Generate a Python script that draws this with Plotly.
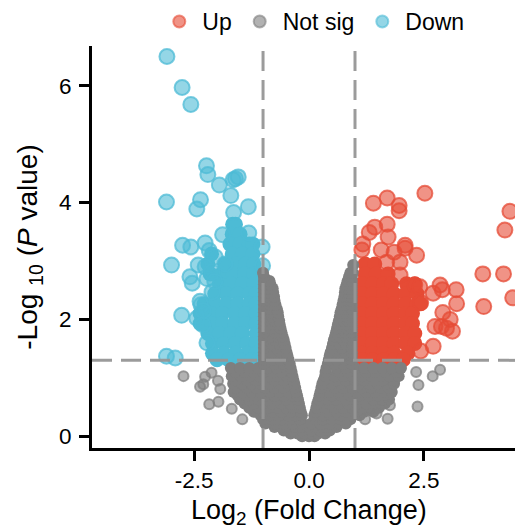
import plotly.graph_objects as go

up_x = [2.52,4.37,4.26,3.78,4.23,3.80,4.43,1.40,1.70,1.96,1.96,1.70,1.43,1.31,1.72,1.17,1.15,1.57,1.85,2.09,2.09,2.34,1.98,1.69,1.98,2.85,2.70,2.90,3.20,3.21,2.91,2.43,3.07,2.74,2.88,2.99,3.12,2.70,2.43,2.30,2.41]
up_y = [4.16,3.85,3.53,2.78,2.78,2.22,2.37,3.99,4.08,3.95,3.86,3.63,3.58,3.49,3.41,3.29,3.19,3.19,3.15,3.27,3.22,3.10,2.98,2.98,2.76,2.59,2.45,2.51,2.51,2.27,2.12,2.29,2.00,1.88,1.88,1.85,1.80,1.54,1.46,2.59,2.56]
up_core_rows = [
    (2.95, [1.22,1.43]),
    (2.78, [1.22,1.46,1.72]),
    (2.61, [1.15,1.38,1.62,1.80,2.12,2.30]),
    (2.44, [1.15,1.38,1.62,1.85,2.10,2.35]),
    (2.27, [1.15,1.38,1.62,1.85,2.10,2.35,2.43]),
    (2.10, [1.15,1.38,1.62,1.85,2.10,2.25]),
    (1.93, [1.15,1.38,1.62,1.85,2.10,2.25]),
    (1.76, [1.15,1.38,1.62,1.85,2.10,2.30]),
    (1.59, [1.15,1.38,1.62,1.85,2.10,2.30]),
    (1.42, [1.15,1.38,1.62,1.85,2.15]),
    (1.31, [1.15,1.38,1.62,1.85,2.05]),
]

down_x = [-3.09,-2.76,-2.57,-2.23,-2.20,-1.95,-1.65,-1.54,-1.60,-1.70,-3.10,-2.36,-2.44,-1.32,-1.64,-1.88,-1.31,-1.02,-1.01,-2.75,-2.57,-2.26,-2.17,-2.99,-2.41,-2.26,-2.59,-2.54,-2.22,-2.77,-2.37,-2.44,-2.31,-2.22,-3.10,-2.91,-2.04,-1.83,-2.11,-2.11,-2.35,-2.05,-2.30]
down_y = [6.50,5.97,5.68,4.63,4.48,4.30,4.39,4.44,4.41,4.12,4.01,4.05,3.89,3.93,3.83,3.45,3.48,3.24,2.92,3.27,3.24,3.31,3.18,2.93,2.93,2.90,2.73,2.62,2.70,2.07,2.31,2.02,1.91,1.60,1.37,1.34,3.07,2.95,2.81,2.47,2.25,2.65,2.15]
down_core_rows = [
    (3.63, [-1.66,-1.60]),
    (3.46, [-1.67,-1.50]),
    (3.29, [-1.72,-1.50,-1.30,-1.22]),
    (3.12, [-2.12,-1.67,-1.45,-1.22]),
    (2.95, [-2.20,-1.83,-1.60,-1.38,-1.20]),
    (2.78, [-2.15,-1.90,-1.65,-1.40,-1.20]),
    (2.61, [-1.95,-1.70,-1.45,-1.20]),
    (2.44, [-2.05,-1.80,-1.55,-1.30,-1.15]),
    (2.27, [-2.28,-2.05,-1.80,-1.55,-1.30,-1.15]),
    (2.10, [-2.37,-2.12,-1.88,-1.62,-1.38,-1.15]),
    (1.93, [-2.37,-2.12,-1.88,-1.62,-1.38,-1.15]),
    (1.76, [-2.20,-1.95,-1.70,-1.45,-1.15]),
    (1.59, [-2.10,-1.85,-1.60,-1.35,-1.15]),
    (1.42, [-2.10,-1.85,-1.60,-1.35,-1.15]),
    (1.31, [-2.00,-1.75,-1.50,-1.25,-1.10]),
]

ns_x = [-2.73,-2.26,-2.37,-2.12,-2.30,-1.93,-1.98,-2.17,-1.97,-1.68,-1.45,2.85,2.69,2.38,2.36,2.33,1.71,1.47,1.22,1.76]
ns_y = [1.03,1.02,0.85,1.09,0.89,0.81,0.95,0.55,0.59,0.47,0.29,1.14,1.03,0.88,0.51,1.10,0.30,0.39,0.29,0.53]
ns_core_rows = [
    (0.00, [-0.15,0.00,0.12]),
    (0.05, [-0.40,-0.25,-0.10,0.05,0.20,0.35]),
    (0.10, [-0.55,-0.35,-0.15,0.05,0.25,0.45]),
    (0.16, [-0.75,-0.60,-0.45,-0.30,-0.15,0.00,0.15,0.30,0.45,0.60]),
    (0.22, [-0.95,-0.75,-0.55,-0.35,-0.15,0.05,0.25,0.45,0.65,0.80]),
    (0.29, [-1.00,-0.80,-0.60,-0.40,-0.20,0.15,0.30,0.50,0.70,0.90]),
    (0.36, [-1.05,-0.85,-0.65,-0.45,-0.30,-0.155,0.115,0.30,0.50,0.70,0.90,1.10]),
    (0.42, [-1.20,-1.00,-0.80,-0.60,-0.40,-0.18,0.14,0.40,0.60,0.80,1.00,1.20,1.40]),
    (0.49, [-1.30,-1.10,-0.90,-0.70,-0.50,-0.35,-0.20,0.16,0.35,0.55,0.75,0.95,1.15,1.35,1.52]),
    (0.56, [-1.40,-1.20,-1.00,-0.80,-0.60,-0.40,-0.22,0.18,0.45,0.65,0.85,1.05,1.25,1.45,1.65]),
    (0.63, [-1.50,-1.30,-1.10,-0.90,-0.70,-0.50,-0.24,0.21,0.40,0.60,0.80,1.00,1.20,1.40,1.60,1.74]),
    (0.70, [-1.55,-1.35,-1.15,-0.95,-0.75,-0.55,-0.35,-0.26,0.23,0.50,0.70,0.90,1.10,1.30,1.50,1.70]),
    (0.76, [-1.64,-1.45,-1.25,-1.05,-0.85,-0.65,-0.45,-0.28,0.25,0.45,0.65,0.85,1.05,1.25,1.45,1.65,1.80]),
    (0.83, [-1.60,-1.35,-1.15,-0.95,-0.75,-0.55,-0.30,0.27,0.55,0.75,0.95,1.15,1.35,1.55,1.75]),
    (0.90, [-1.65,-1.45,-1.25,-1.05,-0.85,-0.65,-0.45,-0.32,0.29,0.50,0.70,0.90,1.10,1.30,1.50,1.70,1.85]),
    (0.96, [-1.60,-1.35,-1.15,-0.95,-0.75,-0.55,-0.34,0.32,0.60,0.80,1.00,1.20,1.40,1.60,1.85]),
    (1.03, [-1.68,-1.48,-1.28,-1.08,-0.88,-0.68,-0.48,-0.36,0.35,0.55,0.75,0.95,1.15,1.35,1.55,1.75,1.95]),
    (1.10, [-1.60,-1.40,-1.20,-1.00,-0.80,-0.60,-0.38,0.36,0.65,0.85,1.05,1.25,1.45,1.65,1.90]),
    (1.17, [-1.70,-1.50,-1.30,-1.10,-0.90,-0.70,-0.50,-0.40,0.38,0.60,0.80,1.00,1.20,1.40,1.60,1.80,2.00]),
    (1.24, [-0.98,-0.75,-0.55,-0.42,0.41,0.55,0.75,0.93]),
    (1.31, [-0.98,-0.80,-0.62,-0.445,0.43,0.60,0.78,0.93]),
    (1.38, [-0.98,-0.70,-0.47,0.45,0.70,0.93]),
    (1.44, [-0.98,-0.80,-0.62,-0.49,0.47,0.62,0.78,0.93]),
    (1.51, [-0.98,-0.70,-0.51,0.50,0.72,0.93]),
    (1.58, [-0.98,-0.80,-0.65,-0.53,0.52,0.66,0.80,0.93]),
    (1.65, [-0.98,-0.75,-0.55,0.54,0.75,0.93]),
    (1.71, [-0.98,-0.82,-0.68,-0.575,0.565,0.68,0.80,0.93]),
    (1.78, [-0.98,-0.75,-0.60,0.59,0.78,0.93]),
    (1.85, [-0.98,-0.84,-0.72,-0.62,0.61,0.72,0.83,0.93]),
    (1.92, [-0.98,-0.80,-0.64,0.63,0.80,0.93]),
    (1.98, [-0.98,-0.85,-0.75,-0.65,0.65,0.75,0.84,0.93]),
    (2.05, [-0.98,-0.80,-0.67,0.67,0.82,0.93]),
    (2.12, [-0.98,-0.83,-0.68,0.685,0.80,0.93]),
    (2.18, [-0.98,-0.85,-0.70,0.71,0.85,0.93]),
    (2.25, [-0.98,-0.85,-0.73,0.73,0.83,0.93]),
    (2.32, [-0.98,-0.85,-0.75,0.75,0.85,0.93]),
    (2.39, [-0.98,-0.87,-0.76,0.77,0.85,0.93]),
    (2.46, [-0.98,-0.88,-0.78,0.78,0.86,0.93]),
    (2.53, [-0.98,-0.88,-0.79,0.79,0.86,0.93]),
    (2.60, [-0.98,-0.84,0.82,0.93]),
    (2.66, [-0.98,-0.86,0.84,0.93]),
    (2.73, [-0.98,0.87,0.93]),
    (2.80, [-1.00,0.90,0.95]),
    (2.93, [0.96]),
]

x_ticks = [-2.5, 0, 2.5]
x_labels = ["-2.5", "0.0", "2.5"]
y_ticks = [0, 2, 4, 6]
y_labels = ["0", "2", "4", "6"]
x_range = [-4.72, 4.48]
y_range = [-0.2, 6.68]
fc_cut = 1
p_cut = 1.3
legend_names = ["Up", "Not sig", "Down"]

RED, BLUE, GREY = "230,75,53", "77,187,213", "127,127,127"
FONT = "Liberation Sans, Arial, sans-serif"


def flat(rows):
    xs, ys = [], []
    for y, row in rows:
        xs += row
        ys += [y] * len(row)
    return xs, ys


def core(rows, rgb, size):
    xs, ys = flat(rows)
    return go.Scatter(x=xs, y=ys, mode="markers", showlegend=False, hoverinfo="skip",
                      marker=dict(size=size, color=f"rgb({rgb})", line=dict(width=0)))


def loose(xs, ys, rgb, size):
    return go.Scatter(x=xs, y=ys, mode="markers", showlegend=False,
                      marker=dict(size=size, color=f"rgba({rgb},0.6)",
                                  line=dict(width=2, color=f"rgba({rgb},0.75)")))


def key(name, rgb):
    return go.Scatter(x=[None], y=[None], mode="markers", name=name,
                      marker=dict(size=12, color=f"rgba({rgb},0.6)",
                                  line=dict(width=2, color=f"rgba({rgb},0.6)")))


fig = go.Figure()
fig.add_trace(core(up_core_rows, RED, 15))
fig.add_trace(loose(up_x, up_y, RED, 15))
fig.add_trace(core(down_core_rows, BLUE, 15))
fig.add_trace(loose(down_x, down_y, BLUE, 15))
fig.add_trace(core(ns_core_rows, GREY, 12))
fig.add_trace(loose(ns_x, ns_y, GREY, 10))
for name, rgb in zip(legend_names, (RED, GREY, BLUE)):
    fig.add_trace(key(name, rgb))

dash = dict(color="rgba(150,150,150,0.95)", width=3, dash="20px,9px")
for v in (-fc_cut, fc_cut):
    fig.add_shape(type="line", xref="x", yref="paper", x0=v, x1=v, y0=0, y1=1, line=dash, layer="above")
fig.add_shape(type="line", xref="paper", yref="y", x0=0, x1=1, y0=p_cut, y1=p_cut, line=dash, layer="above")

axis = dict(showgrid=False, zeroline=False, showline=True, linecolor="black", linewidth=3,
            ticks="outside", ticklen=10, tickwidth=3, tickcolor="black",
            tickfont=dict(size=22.5, color="black", family=FONT))
fig.update_xaxes(**axis, range=x_range, tickvals=x_ticks, ticktext=x_labels, ticklabelstandoff=0)
fig.update_yaxes(**axis, range=y_range, tickvals=y_ticks, ticktext=y_labels, ticklabelstandoff=3,
                 title=dict(text="-Log <sub>10</sub> (<i>P</i> value)", font=dict(size=28, color="black", family=FONT), standoff=14))
fig.add_annotation(text="Log<sub>2</sub> (Fold Change)", xref="x", yref="paper", x=0, y=-0.207,
                   xanchor="center", yanchor="bottom", showarrow=False,
                   font=dict(size=27, color="black", family=FONT))
fig.update_layout(
    width=515, height=529, autosize=False, plot_bgcolor="white", paper_bgcolor="white",
    margin=dict(l=92, r=0, t=42, b=81),
    legend=dict(orientation="h", x=0.152, xanchor="left", y=1.115, yanchor="top",
                itemwidth=36, font=dict(size=23, color="black", family=FONT),
                bgcolor="rgba(0,0,0,0)", traceorder="normal"),
)
fig.write_html("out.html", config={"displayModeBar": False},
               post_script="document.body.style.margin='0';document.documentElement.style.overflow='hidden';")
